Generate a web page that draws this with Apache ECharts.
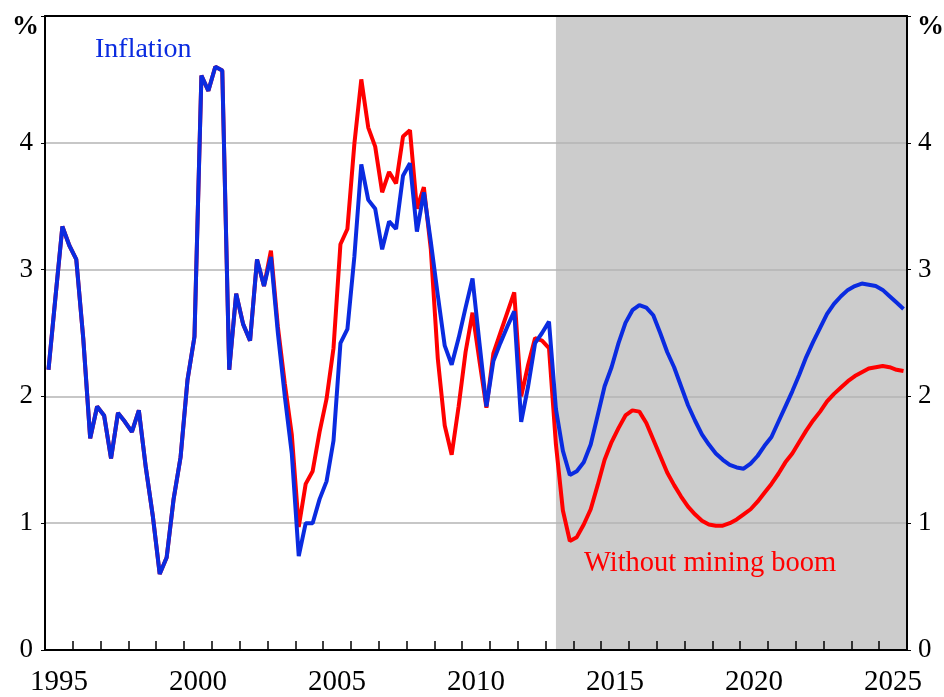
<!DOCTYPE html>
<html>
<head>
<meta charset="utf-8">
<script src="https://cdn.jsdelivr.net/npm/echarts@6/dist/echarts.min.js"></script>
<style>
  html, body { margin: 0; padding: 0; background: #fff; }
  #chart { width: 944px; height: 697px; }
</style>
</head>
<body>
<div id="chart"></div>
<script>
// quarterly series, 1995 Q1 .. 2025 Q4
var startYear = 1995;
var endYear = 2025;
var shadeStart = 2013.375; // forecast period begins

var yearLabels = [];
for (var yr = startYear; yr <= endYear; yr++) yearLabels.push(String(yr));

var inflation = [
  2.21, 2.78, 3.34, 3.19,
  3.08, 2.46, 1.67, 1.92,
  1.85, 1.51, 1.87, 1.80,
  1.72, 1.89, 1.44, 1.06,
  0.60, 0.73, 1.19, 1.52,
  2.13, 2.47, 4.53, 4.41,
  4.60, 4.57, 2.21, 2.81,
  2.57, 2.44, 3.08, 2.87,
  3.10, 2.50, 2.00, 1.55,
  0.74, 1.00, 1.00, 1.19,
  1.33, 1.65, 2.42, 2.53,
  3.10, 3.83, 3.55, 3.48,
  3.16, 3.38, 3.32, 3.74,
  3.84, 3.30, 3.61, 3.22,
  2.80, 2.40, 2.25, 2.46,
  2.70, 2.93, 2.42, 1.92,
  2.28, 2.42, 2.55, 2.67,
  1.80, 2.08, 2.42, 2.50,
  2.59, 1.90, 1.57, 1.38,
  1.41, 1.48, 1.62, 1.85,
  2.08, 2.23, 2.42, 2.58,
  2.68, 2.72, 2.70, 2.64,
  2.50, 2.35, 2.23, 2.08,
  1.93, 1.81, 1.70, 1.62,
  1.55, 1.50, 1.46, 1.44,
  1.43, 1.47, 1.53, 1.61,
  1.68, 1.80, 1.92, 2.04,
  2.17, 2.31, 2.43, 2.54,
  2.65, 2.73, 2.79, 2.84,
  2.87, 2.89, 2.88, 2.87,
  2.84, 2.79, 2.74, 2.69
];

var noMiningBoom = [
  2.21, 2.78, 3.34, 3.19,
  3.08, 2.46, 1.67, 1.92,
  1.85, 1.51, 1.87, 1.80,
  1.72, 1.89, 1.44, 1.06,
  0.60, 0.73, 1.19, 1.52,
  2.13, 2.47, 4.53, 4.41,
  4.60, 4.57, 2.21, 2.81,
  2.57, 2.44, 3.08, 2.87,
  3.15, 2.55, 2.10, 1.70,
  0.97, 1.31, 1.41, 1.72,
  1.98, 2.38, 3.20, 3.32,
  3.99, 4.50, 4.12, 3.97,
  3.61, 3.77, 3.68, 4.05,
  4.10, 3.48, 3.65, 3.16,
  2.30, 1.77, 1.54, 1.92,
  2.35, 2.66, 2.28, 1.91,
  2.34, 2.50, 2.66, 2.82,
  2.00, 2.25, 2.46, 2.44,
  2.38, 1.62, 1.10, 0.86,
  0.89, 0.99, 1.11, 1.30,
  1.50, 1.64, 1.75, 1.85,
  1.89, 1.88, 1.79, 1.66,
  1.53, 1.40, 1.30, 1.21,
  1.13, 1.07, 1.02, 0.99,
  0.98, 0.98, 1.00, 1.03,
  1.07, 1.11, 1.17, 1.24,
  1.31, 1.39, 1.48, 1.55,
  1.64, 1.73, 1.81, 1.88,
  1.96, 2.02, 2.07, 2.12,
  2.16, 2.19, 2.22, 2.23,
  2.24, 2.23, 2.21, 2.20
];

// each quarter sits in the middle of its quarter band
function toPairs(values) {
  return values.map(function (v, i) {
    return [startYear + (i + 0.5) / 4, v];
  });
}

var serif = '"Liberation Serif", "Times New Roman", serif';
var blue = '#0a2be0';
var red = '#ff0000';

var chart = echarts.init(document.getElementById('chart'));
chart.setOption({
  animation: false,
  backgroundColor: '#fff',
  grid: { left: 45, right: 37, top: 16, bottom: 46 },
  xAxis: [
    {
      type: 'value', min: startYear, max: endYear + 1, interval: 1,
      position: 'bottom', z: 5,
      axisLine: { lineStyle: { color: '#000', width: 2 } },
      axisTick: { inside: true, length: 9, lineStyle: { color: '#000', width: 1.5 } },
      axisLabel: { show: false },
      splitLine: { show: false }
    },
    {
      type: 'category', data: yearLabels, position: 'bottom', boundaryGap: true,
      axisLine: { show: false }, axisTick: { show: false },
      axisLabel: { interval: 4, fontSize: 29, fontFamily: serif, color: '#000', margin: 18 }
    },
    {
      type: 'value', min: startYear, max: endYear + 1, position: 'top', z: 5,
      axisLine: { lineStyle: { color: '#000', width: 2 } },
      axisTick: { show: false }, axisLabel: { show: false }, splitLine: { show: false }
    }
  ],
  yAxis: [
    {
      type: 'value', min: 0, max: 5, interval: 1, position: 'left', z: 5,
      axisLine: { show: true, lineStyle: { color: '#000', width: 2 } },
      axisTick: { show: true, length: 4, lineStyle: { color: '#000' } },
      axisLabel: {
        fontSize: 27, fontFamily: serif, color: '#000', margin: 12,
        formatter: function (v) { return v === 5 ? '' : v; }
      },
      splitLine: { show: true, lineStyle: { color: '#b4b4b4', width: 1.5 } }
    },
    {
      type: 'value', min: 0, max: 5, interval: 1, position: 'right', z: 5,
      axisLine: { show: true, lineStyle: { color: '#000', width: 2 } },
      axisTick: { show: true, length: 4, lineStyle: { color: '#000' } },
      axisLabel: {
        fontSize: 27, fontFamily: serif, color: '#000', margin: 11,
        formatter: function (v) { return v === 5 ? '' : v; }
      },
      splitLine: { show: false }
    }
  ],
  series: [
    {
      type: 'line', data: [], z: 1, silent: true,
      markArea: {
        silent: true,
        itemStyle: { color: '#cccccc' },
        data: [[{ xAxis: shadeStart }, { xAxis: endYear + 1 }]]
      }
    },
    {
      name: 'Without mining boom', type: 'line', z: 10,
      data: toPairs(noMiningBoom), showSymbol: false,
      lineStyle: { color: red, width: 4 }
    },
    {
      name: 'Inflation', type: 'line', z: 11,
      data: toPairs(inflation), showSymbol: false,
      lineStyle: { color: blue, width: 4 }
    }
  ],
  graphic: [
    { type: 'text', z: 100, left: 12, top: 14, style: { text: '%', font: 'bold 27px ' + serif, fill: '#000' } },
    { type: 'text', z: 100, left: 917, top: 14, style: { text: '%', font: 'bold 27px ' + serif, fill: '#000' } },
    { type: 'text', z: 100, left: 95, top: 36, style: { text: 'Inflation', font: '28px ' + serif, fill: blue } },
    { type: 'text', z: 100, left: 584, top: 549, style: { text: 'Without mining boom', font: '28.5px ' + serif, fill: red } }
  ]
});
</script>
</body>
</html>
